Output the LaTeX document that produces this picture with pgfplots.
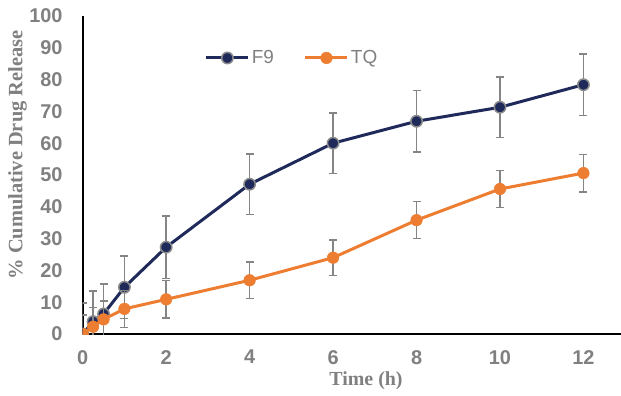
\documentclass[border=0pt]{standalone}
\usepackage{pgfplots}
\pgfplotsset{compat=1.18}
\usepackage{fontspec}
\setmainfont{Liberation Serif}
\newfontfamily\arial{Liberation Sans}
\newfontfamily\timesf{Liberation Serif}
\definecolor{navy}{HTML}{1F2A5A}
\definecolor{orng}{HTML}{ED7D31}
\definecolor{txtgray}{HTML}{808080}
\definecolor{errgray}{HTML}{858585}
\definecolor{mkgray}{HTML}{8C8C8C}
\pgfplotstableread{
t y e
0 0 9.8
0.25 3.9 9.7
0.5 6.3 9.5
1 14.7 9.9
2 27.3 9.8
4 47.1 9.5
6 60.0 9.5
8 66.9 9.6
10 71.3 9.5
12 78.4 9.7
}\Fnine
\pgfplotstableread{
t y e
0 0 5.9
0.25 2.3 6.0
0.5 4.6 5.7
1 7.9 5.8
2 10.9 5.9
4 16.9 5.7
6 24.0 5.6
8 35.8 5.8
10 45.6 5.8
12 50.6 5.9
}\TQ
\begin{document}
\begin{tikzpicture}[x=1bp,y=1bp]
\path[use as bounding box] (0,0) rectangle (621,395);
\begin{axis}[
  at={(82.7bp,61bp)}, anchor=south west,
  scale only axis, width=538.3bp, height=318bp,
  xmin=0, xmax=12.9, ymin=0, ymax=100,
  axis x line=bottom, axis y line=left,
  axis line style={-, black, line width=1.6bp},
  xtick={0,2,...,12}, ytick={0,10,...,100},
  major tick length=0pt,
  /pgf/number format/assume math mode=true,
  xticklabel style={font=\arial\bfseries\fontsize{20}{20}\selectfont, text=txtgray, anchor=north, inner sep=0pt, yshift=-16bp},
  yticklabel style={font=\arial\bfseries\fontsize{20}{20}\selectfont, text=txtgray, anchor=east, inner sep=0pt, xshift=-20bp},
  clip marker paths=true,
  legend columns=2,
  legend style={draw=none, fill=none, inner sep=0pt, outer sep=0pt,
    at={(0.227,0.868)}, anchor=west,
    font=\arial\fontsize{19}{19}\selectfont, text=txtgray,
    nodes={inner sep=2bp},
    /tikz/column 2/.style={column sep=28bp},
  },
  legend image code/.code={\draw[mark repeat=2, mark phase=2] plot coordinates {(0bp,0bp) (21bp,0bp) (42bp,0bp)};},
]
\addplot[navy, line width=3bp, mark=*, mark size=5.7bp,
  mark options={fill=navy, draw=mkgray, line width=1.5bp},
  error bars/.cd, y dir=both, y explicit,
  error bar style={errgray, line width=1.5bp},
  error mark options={rotate=90, mark size=4bp, errgray, line width=1.5bp}]
  table[x=t, y=y, y error=e] {\Fnine};
\addlegendentry{F9}
\addplot[orng, line width=3bp, mark=*, mark size=5.8bp,
  mark options={fill=orng, draw=orng, line width=0.5bp},
  error bars/.cd, y dir=both, y explicit,
  error bar style={errgray, line width=1.5bp},
  error mark options={rotate=90, mark size=4bp, errgray, line width=1.5bp}]
  table[x=t, y=y, y error=e] {\TQ};
\addlegendentry{TQ}
\end{axis}
\node[rotate=90, font=\timesf\bfseries\fontsize{20.5}{20.5}\selectfont, text=txtgray] at (17.5,240) {\% Cumulative Drug Release};
\node[font=\timesf\bfseries\fontsize{20}{20}\selectfont, text=txtgray] at (366,14) {Time (h)};
\end{tikzpicture}
\end{document}
